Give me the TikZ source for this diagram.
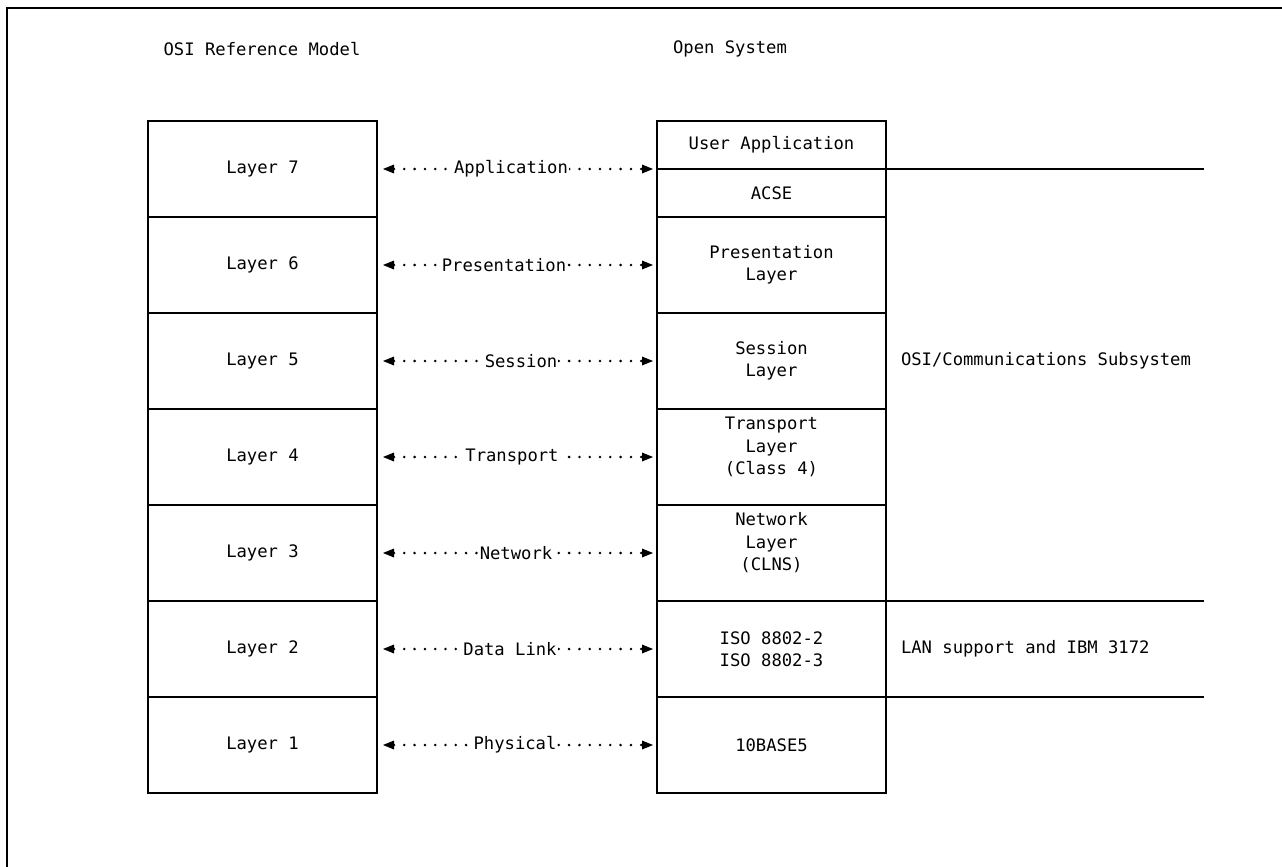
\documentclass[tikz,border=0pt]{standalone}
\usepackage{fontspec}
\newfontfamily\monofnt{DejaVu Sans Mono}
\usetikzlibrary{arrows.meta}
\begin{document}
\begin{tikzpicture}[x=1pt,y=-1pt,
  every node/.style={font=\monofnt\fontsize{17.2}{22.5}\selectfont, inner sep=0pt, outer sep=0pt},
  layerbox/.style={draw, line width=1.4pt, minimum width=229pt, minimum height=96pt, anchor=north west, align=center},
  halfbox/.style={draw, line width=1.4pt, minimum width=229pt, minimum height=48pt, anchor=north west, align=center},
  peer/.style={line width=2.8pt, line cap=round, dash pattern=on 0pt off 10.3pt,
    {Triangle[length=11pt,width=9pt,line width=0pt]}-{Triangle[length=11pt,width=9pt,line width=0pt]},
    shorten <=6pt, shorten >=4pt},
  plabel/.style={fill=white, inner xsep=1pt, inner ysep=3pt},
  ext/.style={line width=1.4pt},
  frame/.style={line width=2pt}]
\useasboundingbox (0,0) rectangle (1282,867);
\draw[frame] (1282,8) -- (7,8) -- (7,867);

% titles
\node (t1) at (262,49) {OSI Reference Model};
\node (t2) at (730,49) {Open System};

% OSI reference model column
\node[layerbox] (L7) at (148,121) {Layer 7};
\node[layerbox] (L6) at (148,217) {Layer 6};
\node[layerbox] (L5) at (148,313) {Layer 5};
\node[layerbox] (L4) at (148,409) {Layer 4};
\node[layerbox] (L3) at (148,505) {Layer 3};
\node[layerbox] (L2) at (148,601) {Layer 2};
\node[layerbox] (L1) at (148,697) {Layer 1};

% Open system column
\node[halfbox] (UA) at (657,121) {User Application};
\node[halfbox] (AC) at (657,169) {ACSE};
\node[layerbox] (R6) at (657,217) {Presentation\\Layer};
\node[layerbox] (R5) at (657,313) {Session\\Layer};
\node[layerbox] (R4) at (657,409) {Transport\\Layer\\(Class 4)\\\mbox{}};
\node[layerbox] (R3) at (657,505) {Network\\Layer\\(CLNS)\\\mbox{}};
\node[layerbox] (R2) at (657,601) {ISO 8802-2\\ISO 8802-3};
\node[layerbox] (R1) at (657,697) {10BASE5};

% extension lines
\coordinate (e7) at (1204,169);
\coordinate (e2) at (1204,601);
\coordinate (e1) at (1204,697);
\draw[ext] (UA.south east) -- (e7);
\draw[ext] (R2.north east) -- (e2);
\draw[ext] (R1.north east) -- (e1);

\node[anchor=west] (sub) at (901,361) {OSI/Communications Subsystem};
\node[anchor=west] (lan) at (901,649) {LAN support and IBM 3172};

% peer protocols
\draw[peer] (L7.east) -- (UA.south west);
\node[plabel] (p7) at (511,169) {Application};
\draw[peer] (L6.east) -- (R6.west);
\node[plabel] (p6) at (504,265) {Presentation};
\draw[peer] (L5.east) -- (R5.west);
\node[plabel] (p5) at (521,361) {Session};
\draw[peer] (L4.east) -- (R4.west);
\node[plabel] (p4) at (512,457) {Transport};
\draw[peer] (L3.east) -- (R3.west);
\node[plabel] (p3) at (516,553) {Network};
\draw[peer] (L2.east) -- (R2.west);
\node[plabel] (p2) at (510,649) {Data Link};
\draw[peer] (L1.east) -- (R1.west);
\node[plabel] (p1) at (515,745) {Physical};
\end{tikzpicture}
\end{document}
